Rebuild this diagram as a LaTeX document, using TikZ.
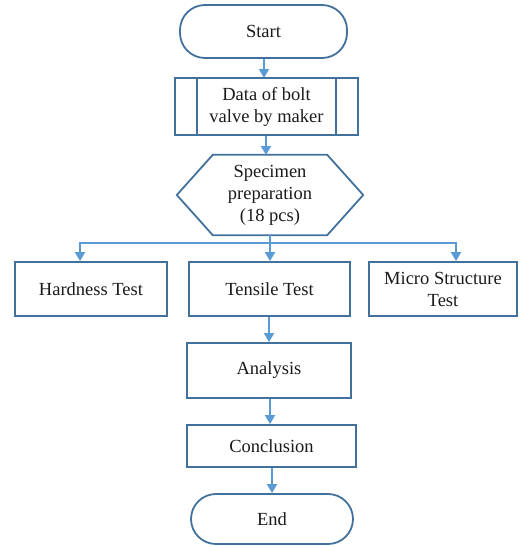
\documentclass[tikz,border=0pt]{standalone}
\usepackage{fontspec}
\setmainfont{Liberation Serif}
\newfontfamily\tnr{Liberation Serif}
\usetikzlibrary{arrows.meta,calc}
\definecolor{edge}{HTML}{41719C}
\definecolor{arrc}{HTML}{5B9BD5}
\definecolor{txt}{HTML}{1A1A1A}
\begin{document}
\begin{tikzpicture}[x=1pt,y=-1pt,
  lbl/.style={align=center,inner sep=0pt,text=txt,font=\tnr\fontsize{18.5}{22}\selectfont},
  box/.style={lbl,draw=edge,line width=1.8pt,rectangle},
  term/.style={box,rounded corners=25pt},
  arr/.style={draw=arrc,line width=1.8pt,-{Triangle[width=10pt,length=9pt]}}]
\useasboundingbox (0,0) rectangle (520,546);
\node[term,minimum width=167pt,minimum height=53pt] (start) at (263.5,31.5) {Start};
\node[box,minimum width=183pt,minimum height=57pt] (data) at (266.5,106.5) {Data of bolt\\valve by maker};
\draw[edge,line width=1.8pt] ($(data.north west)+(23,0)$) -- ($(data.south west)+(23,0)$);
\draw[edge,line width=1.2pt] ($(data.north east)+(-23,0)$) -- ($(data.south east)+(-23,0)$);
\node[lbl,minimum width=186pt,minimum height=80pt] (hex) at (270,195) {Specimen\\preparation\\(18 pcs)};
\draw[edge,line width=1.8pt] (hex.west) -- ($(hex.north west)+(36,0)$) -- ($(hex.north east)+(-36,0)$) -- (hex.east) -- ($(hex.south east)+(-36,0)$) -- ($(hex.south west)+(36,0)$) -- cycle;
\node[box,minimum width=152pt,minimum height=54pt] (hard) at (91,289) {Hardness Test};
\node[box,minimum width=161pt,minimum height=54pt] (tens) at (269.5,289) {Tensile Test};
\node[box,minimum width=148pt,minimum height=54pt] (micro) at (443,289) {Micro Structure\\Test};
\node[box,minimum width=164pt,minimum height=55pt] (ana) at (269,370.5) {Analysis};
\node[box,minimum width=169pt,minimum height=42pt] (conc) at (271.5,446) {Conclusion};
\node[term,minimum width=162pt,minimum height=50pt] (end) at (272,519) {End};
\coordinate (j) at (270,243);
\draw[arr] (start.south -| 264,0) -- (264,78);
\draw[arr] (data.south -| 266,0) -- (266,155);
\draw[arr] (hex.south) -- (tens.north -| hex.south);
\draw[arr] (j) -| ($(hard.north)+(-11,0)$);
\draw[arr] (j) -| ($(micro.north)+(13,0)$);
\draw[arr] (tens.south -| 269,0) -- (ana.north -| 269,0);
\draw[arr] (ana.south -| 270,0) -- (conc.north -| 270,0);
\draw[arr] (conc.south -| 272,0) -- (end.north);
\end{tikzpicture}
\end{document}
